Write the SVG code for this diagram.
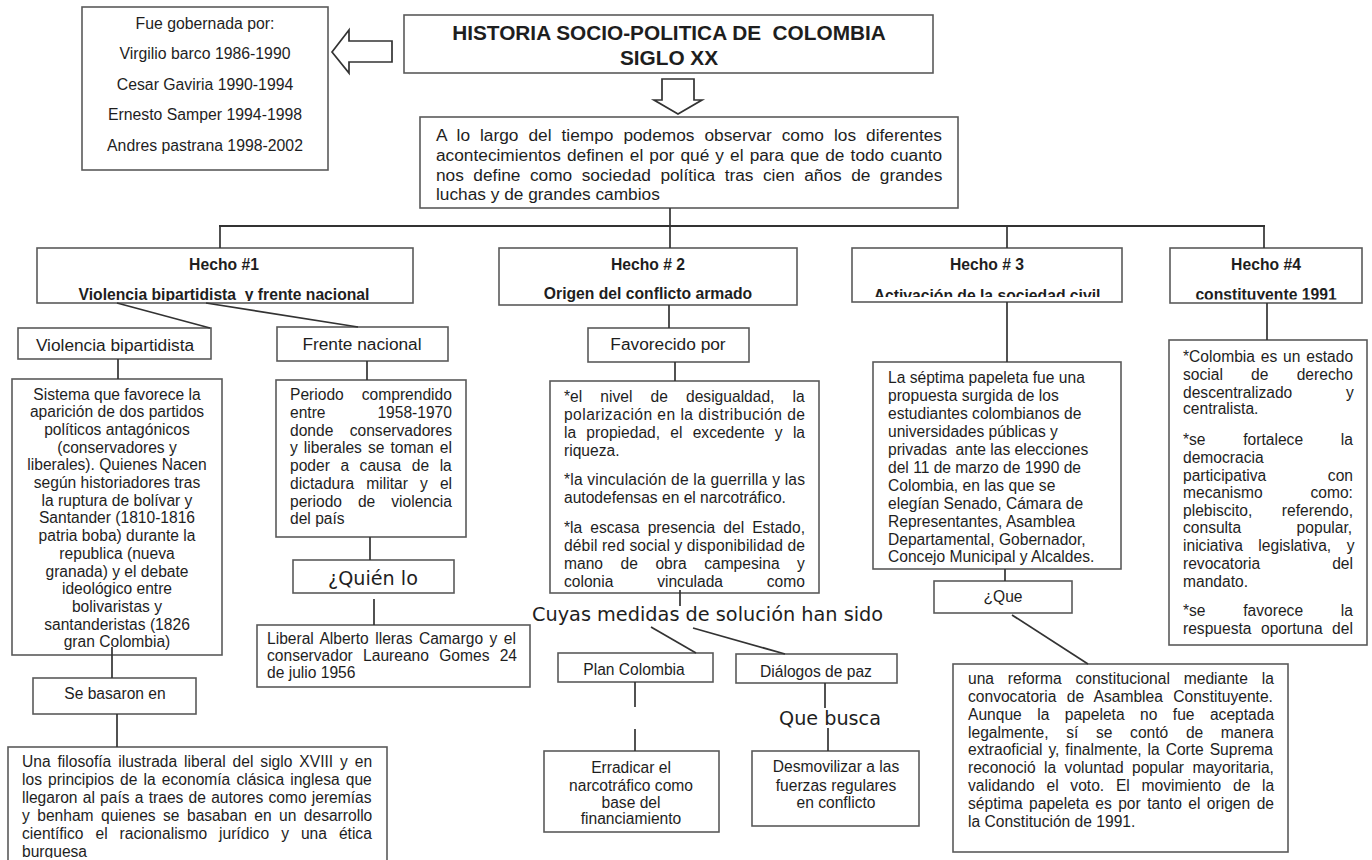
<svg xmlns="http://www.w3.org/2000/svg" width="1372" height="860" viewBox="0 0 1372 860">
<style>
.box{fill:#fff;stroke:#5a5a5a;stroke-width:1.6}
.ln{stroke:#333;stroke-width:1.7;fill:none}
.ar{fill:#fff;stroke:#333;stroke-width:1.7}
text{font-family:"Liberation Sans",Arial,sans-serif;font-size:15.6px;fill:#1e1e1e}
.c{text-anchor:middle}
.b{font-weight:bold;font-size:15.7px}
.lab{font-size:17.3px}
.dv{font-family:"DejaVu Sans",sans-serif;font-size:19.2px}
</style>
<defs>
<clipPath id="c1"><rect x="37" y="248" width="376" height="53"/></clipPath>
<clipPath id="c3"><rect x="852" y="248" width="270" height="49"/></clipPath>
<clipPath id="c4"><rect x="1170" y="248" width="192" height="51.5"/></clipPath>
<clipPath id="cb"><rect x="0" y="740" width="400" height="118"/></clipPath>
</defs>
<rect width="1372" height="860" fill="#fff"/>

<g id="gobernada">
<rect class="box" x="82" y="7" width="246" height="163"/>
<text class="c" x="205" y="29" style="font-size:15.8px">Fue gobernada por:</text>
<text class="c" x="205" y="59" style="font-size:15.8px">Virgilio barco 1986-1990</text>
<text class="c" x="205" y="90" style="font-size:15.8px">Cesar Gaviria 1990-1994</text>
<text class="c" x="205" y="120" style="font-size:15.8px">Ernesto Samper 1994-1998</text>
<text class="c" x="205" y="151" style="font-size:15.8px">Andres pastrana 1998-2002</text>
</g>

<g id="titulo">
<rect class="box" x="404" y="15" width="529" height="58"/>
<text class="c" x="669" y="40" style="font-weight:bold;font-size:20.8px" xml:space="preserve">HISTORIA SOCIO-POLITICA DE  COLOMBIA</text>
<text class="c" x="669" y="65" style="font-weight:bold;font-size:20.8px">SIGLO XX</text>
</g>

<g id="intro">
<rect class="box" x="420" y="117" width="538" height="91"/>
<text x="436" y="140.5" style="font-size:17.3px;word-spacing:5.2px">A lo largo del tiempo podemos observar como los diferentes</text>
<text x="436" y="160.5" style="font-size:17.3px;word-spacing:1.3px">acontecimientos definen el por qué y el para que de todo cuanto</text>
<text x="436" y="180.5" style="font-size:17.3px;word-spacing:4.7px">nos define como sociedad política tras cien años de grandes</text>
<text x="436" y="199.5" style="font-size:17.3px">luchas y de grandes cambios</text>
</g>

<g id="hecho1">
<rect class="box" x="37" y="248" width="376" height="55"/>
<text class="c b" x="224" y="269.5">Hecho #1</text>
<text class="c b" x="224" y="299.5" clip-path="url(#c1)" xml:space="preserve">Violencia bipartidista  y frente nacional</text>
</g>

<g id="hecho2">
<rect class="box" x="499" y="248" width="298" height="57"/>
<text class="c b" x="648" y="269.5">Hecho # 2</text>
<text class="c b" x="648" y="298.5">Origen del conflicto armado</text>
</g>

<g id="hecho3">
<rect class="box" x="852" y="248" width="270" height="54"/>
<text class="c b" x="987" y="270">Hecho # 3</text>
<text class="c b" x="987" y="300.5" clip-path="url(#c3)">Activación de la sociedad civil</text>
</g>

<g id="hecho4">
<rect class="box" x="1170" y="248" width="192" height="55"/>
<text class="c b" x="1266" y="269.5">Hecho #4</text>
<text class="c b" x="1266" y="299.5" clip-path="url(#c4)">constituyente 1991</text>
</g>

<g id="violencia">
<rect class="box" x="18" y="328" width="193" height="31"/>
<text class="c lab" x="115" y="351">Violencia bipartidista</text>
</g>

<g id="sistema">
<rect class="box" x="12" y="379" width="210" height="276"/>
<text class="c" x="117" y="399.5">Sistema que favorece  la</text>
<text class="c" x="117" y="417.2">aparición de dos partidos</text>
<text class="c" x="117" y="434.9">políticos antagónicos</text>
<text class="c" x="117" y="452.6">(conservadores y</text>
<text class="c" x="117" y="470.3">liberales). Quienes Nacen</text>
<text class="c" x="117" y="488">según historiadores tras</text>
<text class="c" x="117" y="505.7">la ruptura de bolívar y</text>
<text class="c" x="117" y="523.4">Santander (1810-1816</text>
<text class="c" x="117" y="541.1">patria boba) durante la</text>
<text class="c" x="117" y="558.8">republica (nueva</text>
<text class="c" x="117" y="576.5">granada)  y el debate</text>
<text class="c" x="117" y="594.2">ideológico entre</text>
<text class="c" x="117" y="611.9">bolivaristas y</text>
<text class="c" x="117" y="629.6">santanderistas (1826</text>
<text class="c" x="117" y="647.3">gran Colombia)</text>
</g>

<g id="basaron">
<rect class="box" x="33" y="678" width="163" height="36"/>
<text class="c" x="115" y="698.5">Se basaron en</text>
</g>

<g id="filosofia">
<rect class="box" x="8" y="747" width="379" height="125"/>
<text x="22" y="767" style="word-spacing:2.6px">Una filosofía ilustrada liberal del siglo XVIII y en</text>
<text x="22" y="785" style="word-spacing:1.8px">los principios de la economía clásica inglesa que</text>
<text x="22" y="803" style="word-spacing:0.9px">llegaron al país a traes de autores como jeremías</text>
<text x="22" y="821" style="word-spacing:3.1px">y benham quienes se basaban en un desarrollo</text>
<text x="22" y="839" style="word-spacing:7.6px">científico el racionalismo jurídico y una ética</text>
<text x="22" y="857" clip-path="url(#cb)">burguesa</text>
</g>

<g id="frente">
<rect class="box" x="277" y="327" width="171" height="34"/>
<text class="c lab" x="362" y="350">Frente nacional</text>
</g>

<g id="periodo">
<rect class="box" x="276" y="380" width="190" height="157"/>
<text x="290" y="400" style="word-spacing:13.7px">Periodo comprendido</text>
<text x="290" y="418" style="word-spacing:47.5px">entre 1958-1970</text>
<text x="290" y="436" style="word-spacing:12px">donde conservadores</text>
<text x="290" y="453" style="word-spacing:1.7px">y liberales se toman el</text>
<text x="290" y="471" style="word-spacing:6.2px">poder a causa de la</text>
<text x="290" y="489" style="word-spacing:7.8px">dictadura militar y el</text>
<text x="290" y="507" style="word-spacing:11.6px">periodo de violencia</text>
<text x="290" y="524">del país</text>
</g>

<g id="quien">
<rect class="box" x="293" y="560" width="161" height="33"/>
<text class="c dv" x="373" y="585">¿Quién lo</text>
</g>

<g id="liberal">
<rect class="box" x="257" y="625" width="273" height="62"/>
<text x="267" y="644" style="word-spacing:2.1px">Liberal Alberto lleras Camargo y el</text>
<text x="267" y="661" style="word-spacing:5.9px">conservador Laureano Gomes 24</text>
<text x="267" y="678">de julio 1956</text>
</g>

<g id="favorecido">
<rect class="box" x="588" y="328" width="161" height="34"/>
<text class="c lab" x="668" y="350">Favorecido por</text>
</g>

<g id="causas">
<rect class="box" x="550" y="381" width="269" height="212"/>
<text x="564" y="402" style="word-spacing:13.8px">*el nivel de desigualdad, la</text>
<text x="564" y="420" textLength="241" lengthAdjust="spacing">polarización en la distribución de</text>
<text x="564" y="437.5" style="word-spacing:5.9px">la propiedad, el excedente y la</text>
<text x="564" y="455.5">riqueza.</text>
<text x="564" y="485" textLength="241" lengthAdjust="spacing">*la vinculación de la guerrilla y las</text>
<text x="564" y="503">autodefensas en el narcotráfico.</text>
<text x="564" y="533" style="word-spacing:3.7px">*la escasa presencia del Estado,</text>
<text x="564" y="551" textLength="241" lengthAdjust="spacing">débil red social y disponibilidad de</text>
<text x="564" y="569" style="word-spacing:13.2px">mano de obra campesina y</text>
<text x="564" y="587" style="word-spacing:39.4px">colonia vinculada como</text>
</g>

<g id="medidas">
<text class="dv" x="532" y="621" style="font-size:19.3px">Cuyas medidas de solución han sido</text>
</g>

<g id="plan">
<rect class="box" x="558" y="653" width="155" height="29"/>
<text class="c" x="634" y="674.5">Plan Colombia</text>
</g>

<g id="dialogos">
<rect class="box" x="736" y="654" width="161" height="29"/>
<text class="c" x="816" y="676.5">Diálogos de paz</text>
</g>

<g id="busca">
<text class="c dv" x="830" y="725">Que busca</text>
</g>

<g id="erradicar">
<rect class="box" x="544" y="751" width="175" height="81"/>
<text class="c" x="631" y="773">Erradicar el</text>
<text class="c" x="631" y="791">narcotráfico como</text>
<text class="c" x="631" y="808">base del</text>
<text class="c" x="631" y="824">financiamiento</text>
</g>

<g id="desmovilizar">
<rect class="box" x="752" y="751" width="167" height="75"/>
<text class="c" x="836" y="772">Desmovilizar a las</text>
<text class="c" x="836" y="791">fuerzas regulares</text>
<text class="c" x="836" y="808">en conflicto</text>
</g>

<g id="septima">
<rect class="box" x="873" y="362" width="248" height="207"/>
<text x="888" y="383">La séptima papeleta fue una</text>
<text x="888" y="401">propuesta surgida de los</text>
<text x="888" y="419">estudiantes colombianos de</text>
<text x="888" y="437">universidades públicas y</text>
<text x="888" y="455" xml:space="preserve">privadas  ante las elecciones</text>
<text x="888" y="473">del 11 de marzo de 1990 de</text>
<text x="888" y="491">Colombia, en las que se</text>
<text x="888" y="509">elegían Senado, Cámara de</text>
<text x="888" y="527">Representantes, Asamblea</text>
<text x="888" y="545">Departamental, Gobernador,</text>
<text x="888" y="562">Concejo Municipal y Alcaldes.</text>
</g>

<g id="que">
<rect class="box" x="934" y="581" width="138" height="32"/>
<text class="c" x="1003" y="602">¿Que</text>
</g>

<g id="reforma">
<rect class="box" x="953" y="664" width="335" height="188"/>
<text x="968" y="684" style="word-spacing:9.5px">una reforma constitucional mediante la</text>
<text x="968" y="702" style="word-spacing:6px">convocatoria de Asamblea Constituyente.</text>
<text x="968" y="720" style="word-spacing:11.1px">Aunque la papeleta no fue aceptada</text>
<text x="968" y="738" style="word-spacing:13.3px">legalmente, sí se contó de manera</text>
<text x="968" y="755" style="word-spacing:1.6px">extraoficial y, finalmente, la Corte Suprema</text>
<text x="968" y="773" style="word-spacing:4.1px">reconoció la voluntad popular mayoritaria,</text>
<text x="968" y="791" style="word-spacing:7.4px">validando el voto. El movimiento de la</text>
<text x="968" y="809" style="word-spacing:2.1px">séptima papeleta es por tanto el origen de</text>
<text x="968" y="827">la Constitución de 1991.</text>
</g>

<g id="constitucion">
<rect class="box" x="1169" y="340" width="198" height="305"/>
<text x="1183" y="362" style="word-spacing:1.5px">*Colombia es un estado</text>
<text x="1183" y="380" style="word-spacing:23.9px">social de derecho</text>
<text x="1183" y="398" style="word-spacing:49.5px">descentralizado y</text>
<text x="1183" y="414">centralista.</text>
<text x="1183" y="445" style="word-spacing:33.4px">*se fortalece la</text>
<text x="1183" y="463">democracia</text>
<text x="1183" y="481" style="word-spacing:57.3px">participativa con</text>
<text x="1183" y="498" style="word-spacing:43.4px">mecanismo como:</text>
<text x="1183" y="516" style="word-spacing:25.2px">plebiscito, referendo,</text>
<text x="1183" y="533" style="word-spacing:51.2px">consulta popular,</text>
<text x="1183" y="551" style="word-spacing:11.2px">iniciativa legislativa, y</text>
<text x="1183" y="569" style="word-spacing:67.7px">revocatoria del</text>
<text x="1183" y="587">mandato.</text>
<text x="1183" y="616" style="word-spacing:33.4px">*se favorece la</text>
<text x="1183" y="634" style="word-spacing:5.2px">respuesta oportuna del</text>
</g>

<g id="connectors">
<polygon class="ar" points="332,52 349,30 349,41 392,41 392,62 349,62 349,73"/>
<polygon class="ar" points="662,79 694,79 694,100 702,100 678,114 654,100 662,100"/>
<line class="ln" x1="670" y1="208" x2="670" y2="248"/>
<line class="ln" x1="219" y1="226" x2="1265" y2="226" style="stroke-width:2"/>
<line class="ln" x1="220" y1="226" x2="220" y2="248"/>
<line class="ln" x1="1007" y1="226" x2="1007" y2="248"/>
<line class="ln" x1="1264" y1="226" x2="1264" y2="248"/>
<line class="ln" x1="117" y1="303" x2="210" y2="328"/>
<line class="ln" x1="206" y1="303" x2="358" y2="327"/>
<line class="ln" x1="118" y1="359" x2="118" y2="379"/>
<line class="ln" x1="112" y1="647" x2="112" y2="678"/>
<line class="ln" x1="117" y1="714" x2="117" y2="747"/>
<line class="ln" x1="367" y1="361" x2="367" y2="380"/>
<line class="ln" x1="370" y1="537" x2="370" y2="560"/>
<line class="ln" x1="374" y1="599" x2="374" y2="625"/>
<line class="ln" x1="669" y1="305" x2="669" y2="328"/>
<line class="ln" x1="675" y1="362" x2="675" y2="381"/>
<line class="ln" x1="680" y1="590" x2="680" y2="606"/>
<line class="ln" x1="651" y1="627" x2="696" y2="653"/>
<line class="ln" x1="693" y1="628" x2="785" y2="654"/>
<line class="ln" x1="635" y1="682" x2="635" y2="707"/>
<line class="ln" x1="635" y1="729" x2="635" y2="751"/>
<line class="ln" x1="825" y1="683" x2="825" y2="708"/>
<line class="ln" x1="828" y1="728" x2="828" y2="751"/>
<line class="ln" x1="1007" y1="302" x2="1007" y2="362"/>
<line class="ln" x1="1005" y1="569" x2="1005" y2="581"/>
<line class="ln" x1="1012" y1="615" x2="1088" y2="664"/>
<line class="ln" x1="1267" y1="303" x2="1267" y2="340"/>
</g>
</svg>
